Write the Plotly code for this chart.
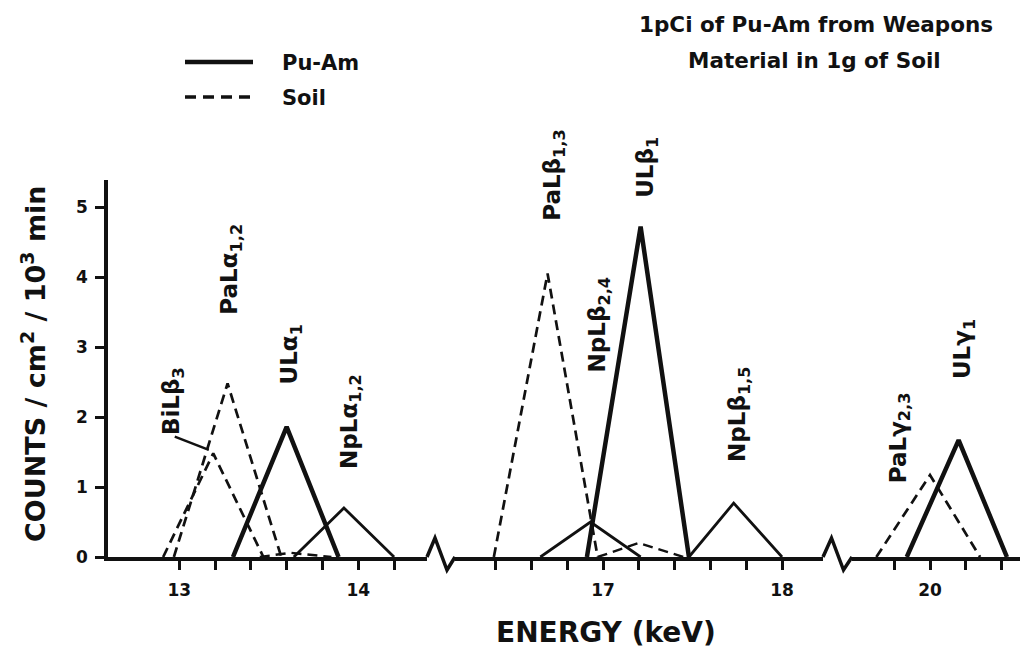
import plotly.graph_objects as go

# ---------------- data (energy in keV, counts / cm^2 / 10^3 min) ----------------
# Pu-Am : uranium L lines (heavy solid)
u_la1_e = [13.30, 13.60, 13.89]
u_la1_c = [0, 1.86, 0]
u_lb1_e = [16.91, 17.21, 17.48]
u_lb1_c = [0, 4.72, 0]
u_lg1_e = [19.87, 20.16, 20.43]
u_lg1_c = [0, 1.67, 0]

# Pu-Am : neptunium L lines (light solid)
np_la12_e = [13.64, 13.92, 14.20]
np_la12_c = [0, 0.70, 0]
np_lb24_e = [16.65, 16.93, 17.21]
np_lb24_c = [0, 0.50, 0]
np_lb15_e = [17.48, 17.73, 18.00]
np_lb15_c = [0, 0.77, 0]

# Soil (dashed)
bi_lb3_e = [12.91, 13.19, 13.47]
bi_lb3_c = [0, 1.48, 0]
pa_la12_e = [12.97, 13.27, 13.57]
pa_la12_c = [0, 2.48, 0]
soil_a_e = [13.45, 13.62, 13.85]
soil_a_c = [0, 0.06, 0]
pa_lb13_e = [16.39, 16.69, 16.97]
pa_lb13_c = [0, 4.05, 0]
soil_b_e = [16.97, 17.20, 17.45]
soil_b_c = [0, 0.20, 0]
pa_lg23_e = [19.70, 20.00, 20.28]
pa_lg23_c = [0, 1.17, 0]

# axis ticks
seg1_ticks = [13.0, 13.2, 13.4, 13.6, 13.8, 14.0, 14.2]
seg1_text = ["13", " ", " ", " ", " ", "14", " "]
seg2_ticks = [16.4, 16.6, 16.8, 17.0, 17.2, 17.4, 17.6, 17.8, 18.0]
seg2_text = [" ", " ", " ", "17", " ", " ", " ", " ", "18"]
seg3_ticks = [19.8, 20.0, 20.2, 20.4]
seg3_text = [" ", "20", " ", " "]
y_ticks = [0, 1, 2, 3, 4, 5]

# peak labels
label_text = ["BiLβ<sub>3</sub>", "PaLα<sub>1,2</sub>", "ULα<sub>1</sub>", "NpLα<sub>1,2</sub>",
              "PaLβ<sub>1,3</sub>", "ULβ<sub>1</sub>", "NpLβ<sub>2,4</sub>", "NpLβ<sub>1,5</sub>",
              "PaLγ<sub>2,3</sub>", "ULγ<sub>1</sub>"]

# ---------------- figure ----------------
W, H = 1023, 653
L, R, T, B = 108, 3, 180, 96
pw, ph = W - L - R, H - T - B
YMAX = 5.386


def px(x):
    return (x - L) / pw


def py(y):
    return (H - B - y) / ph


BLACK = "#111111"
HEAVY = 4.5
LIGHT = 2.8
DASH = "10px,6px"

fig = go.Figure()

series = [
    (u_la1_e, u_la1_c, "x", HEAVY, "solid"),
    (u_lb1_e, u_lb1_c, "x2", HEAVY, "solid"),
    (u_lg1_e, u_lg1_c, "x3", HEAVY, "solid"),
    (np_la12_e, np_la12_c, "x", LIGHT, "solid"),
    (np_lb24_e, np_lb24_c, "x2", LIGHT, "solid"),
    (np_lb15_e, np_lb15_c, "x2", LIGHT, "solid"),
    (bi_lb3_e, bi_lb3_c, "x", 2.7, DASH),
    (pa_la12_e, pa_la12_c, "x", 2.7, DASH),
    (soil_a_e, soil_a_c, "x", 2.4, DASH),
    (pa_lb13_e, pa_lb13_c, "x2", 2.7, DASH),
    (soil_b_e, soil_b_c, "x2", 2.4, DASH),
    (pa_lg23_e, pa_lg23_c, "x3", 2.7, DASH),
]
for e, c, xa, w, d in series:
    fig.add_trace(go.Scatter(x=e, y=c, xaxis=xa, yaxis="y", mode="lines",
                             line=dict(color=BLACK, width=w, dash=d),
                             showlegend=False, hoverinfo="skip", cliponaxis=False))

tickfont = dict(family="DejaVu Sans", size=17, color=BLACK, weight="bold")
xcommon = dict(showline=True, linewidth=4, linecolor=BLACK, ticks="outside",
               ticklen=9, tickwidth=2.5, tickcolor=BLACK, showgrid=False,
               zeroline=False, tickfont=tickfont, anchor="y",
               ticklabelstandoff=6, fixedrange=True)

fig.update_layout(
    width=W, height=H,
    margin=dict(l=L, r=R, t=T, b=B),
    paper_bgcolor="white", plot_bgcolor="white",
    showlegend=False,
    xaxis=dict(domain=[0, px(427)], range=[12.602, 14.384],
               tickmode="array", tickvals=seg1_ticks, ticktext=seg1_text, **xcommon),
    xaxis2=dict(domain=[px(455), px(823)], range=[16.173, 18.229],
                tickmode="array", tickvals=seg2_ticks, ticktext=seg2_text, **xcommon),
    xaxis3=dict(domain=[px(852), 1.0], range=[19.564, 20.503],
                tickmode="array", tickvals=seg3_ticks, ticktext=seg3_text, **xcommon),
    yaxis=dict(range=[0, YMAX], showline=True, linewidth=3.5, linecolor=BLACK,
               ticks="outside", ticklen=9, tickwidth=2.5, tickcolor=BLACK,
               tickvals=y_ticks, showgrid=False, zeroline=False,
               tickfont=tickfont, ticklabelstandoff=4, fixedrange=True),
)

# axis breaks (zig-zags joining the axis line)
for a, b2, c2, d2 in [(427, 435, 447, 455), (823, 831.5, 843.5, 852)]:
    fig.add_shape(type="path", xref="paper", yref="paper",
                  path=f"M {px(a)},{py(557)} L {px(b2)},{py(538)} L {px(c2)},{py(570)} L {px(d2)},{py(557)}",
                  line=dict(color=BLACK, width=3.5))

# BiLβ3 leader line
fig.add_shape(type="line", xref="x", yref="y", x0=12.975, y0=1.72, x1=13.165, y1=1.53,
              line=dict(color=BLACK, width=2.5))

# peak labels (rotated); y given in count units, placed via paper fraction
lab_pos = [("x", 12.966, 2.23), ("x", 13.291, 4.11), ("x", 13.627, 2.90), ("x", 13.958, 1.94),
           ("x2", 16.726, 5.46), ("x2", 17.246, 5.56), ("x2", 16.978, 3.31), ("x2", 17.760, 2.03),
           ("x3", 19.832, 1.71), ("x3", 20.19, 2.97)]
labfont = dict(family="DejaVu Sans", size=23, color=BLACK, weight="bold")
for txt, (xa, xv, yv) in zip(label_text, lab_pos):
    fig.add_annotation(text=txt, x=xv, y=yv / YMAX, xref=xa, yref="paper", textangle=-90,
                       showarrow=False, font=labfont, xanchor="center", yanchor="middle")

# legend (drawn)
fig.add_shape(type="line", xref="paper", yref="paper", x0=px(185), x1=px(253), y0=py(62), y1=py(62),
              line=dict(color=BLACK, width=4.5))
fig.add_shape(type="line", xref="paper", yref="paper", x0=px(185), x1=px(255), y0=py(97), y1=py(97),
              line=dict(color=BLACK, width=3.5, dash="11px,7px"))
legfont = dict(family="DejaVu Sans", size=21, color=BLACK, weight="bold")
fig.add_annotation(text="Pu-Am", x=px(280), y=py(63), xref="paper", yref="paper",
                   xanchor="left", yanchor="middle", showarrow=False, font=legfont)
fig.add_annotation(text="Soil", x=px(280), y=py(98), xref="paper", yref="paper",
                   xanchor="left", yanchor="middle", showarrow=False, font=legfont)

# title
titlefont = dict(family="DejaVu Sans", size=21.5, color=BLACK, weight="bold")
fig.add_annotation(text="1pCi of Pu-Am from Weapons", x=px(816), y=py(24), xref="paper", yref="paper",
                   xanchor="center", yanchor="middle", showarrow=False, font=titlefont)
fig.add_annotation(text="Material in 1g of Soil", x=px(814), y=py(61), xref="paper", yref="paper",
                   xanchor="center", yanchor="middle", showarrow=False, font=titlefont)

# axis titles
fig.add_annotation(text="ENERGY (keV)", x=px(606), y=py(632), xref="paper", yref="paper",
                   xanchor="center", yanchor="middle", showarrow=False,
                   font=dict(family="DejaVu Sans", size=28, color=BLACK, weight="bold"))
fig.add_annotation(text="COUNTS / cm<sup>2</sup> / 10<sup>3</sup> min", x=px(33), y=py(364),
                   xref="paper", yref="paper", textangle=-90,
                   xanchor="center", yanchor="middle", showarrow=False,
                   font=dict(family="DejaVu Sans", size=27, color=BLACK, weight="bold"))

fig.write_html("out.html")
